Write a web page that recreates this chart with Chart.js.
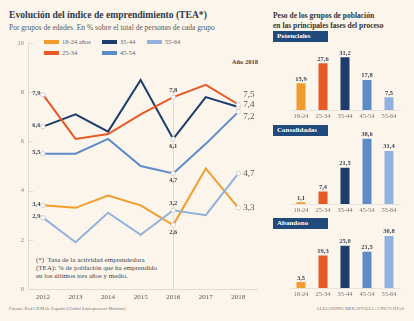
<!DOCTYPE html>
<html>
<head>
<meta charset="utf-8">
<script src="https://cdn.jsdelivr.net/npm/chart.js@4"></script>
<style>
  html, body { margin: 0; padding: 0; }
  body { width: 414px; height: 321px; background: #fcf5ec; position: relative; overflow: hidden;
         font-family: "Liberation Serif", "DejaVu Serif", serif; color: #333; }
  .t { position: absolute; white-space: nowrap; line-height: 1; }
  canvas { position: absolute; }
  .sw { position: absolute; width: 15px; height: 4px; }
  .box { position: absolute; left: 273px; width: 55px; height: 11px; background: #1f4a7b; color: #fff;
         font-weight: bold; font-size: 7px; line-height: 11px; padding-left: 4px; box-sizing: border-box; }
</style>
</head>
<body>
<div class="t" style="left:9px;top:10px;font-size:9.6px;font-weight:bold;color:#2c3b4b;">Evolución del índice de emprendimiento (TEA*)</div>
<div class="t" style="left:9px;top:23.5px;font-size:7.5px;color:#5a5a5a;">Por grupos de edades. En % sobre el total de personas de cada grupo</div>

<div class="sw" style="left:44px;top:40px;background:#f29c2e;"></div>
<div class="t" style="left:62px;top:38.5px;font-size:6.5px;color:#666;">18-24 años</div>
<div class="sw" style="left:102px;top:40px;background:#1d3d6c;"></div>
<div class="t" style="left:120px;top:38.5px;font-size:6.5px;color:#666;">35-44</div>
<div class="sw" style="left:147px;top:40px;background:#92b1dc;"></div>
<div class="t" style="left:165px;top:38.5px;font-size:6.5px;color:#666;">55-64</div>
<div class="sw" style="left:44px;top:51px;background:#e65a26;"></div>
<div class="t" style="left:62px;top:49.5px;font-size:6.5px;color:#666;">25-34</div>
<div class="sw" style="left:102px;top:51px;background:#5b8cc8;"></div>
<div class="t" style="left:120px;top:49.5px;font-size:6.5px;color:#666;">45-54</div>

<div class="t" style="right:156px;top:59px;font-size:6.5px;font-weight:bold;color:#444;">Año 2018</div>

<div class="t" style="left:36px;top:255.5px;font-size:7px;color:#444;line-height:8px;">(*)&nbsp; Tasa de la actividad emprendedora<br>(TEA): % de población que ha emprendido<br>en los últimos tres años y medio.</div>

<div class="t" style="left:9px;top:306.5px;font-size:4.8px;color:#777;">Fuente: Red GEM de España (Global Entrepreneur Monitor)</div>
<div class="t" style="right:10px;top:306.5px;font-size:4.5px;color:#777;letter-spacing:0.1px;">ALEJANDRO MERAVIGLIA / CINCO DÍAS</div>

<div class="t" style="left:273px;top:11px;font-size:7.5px;font-weight:bold;color:#333;line-height:10px;">Peso de los grupos de población<br>en las principales fases del proceso</div>

<div class="box" style="top:31px;">Potenciales</div>
<div class="box" style="top:125px;">Consolidadas</div>
<div class="box" style="top:218px;">Abandono</div>

<canvas id="lines" width="262" height="305" style="left:0;top:0;"></canvas>
<canvas id="bar1" width="130" height="95" style="left:280px;top:30px;"></canvas>
<canvas id="bar2" width="130" height="95" style="left:280px;top:124px;"></canvas>
<canvas id="bar3" width="130" height="95" style="left:280px;top:208px;"></canvas>

<script>
// Tasa TEA por grupo de edad, 2012-2018
const years = [2012, 2013, 2014, 2015, 2016, 2017, 2018];
const g1824 = [3.4, 3.3, 3.8, 3.4, 2.6, 4.9, 3.3];
const g2534 = [7.9, 6.1, 6.3, 7.1, 7.8, 8.3, 7.5];
const g3544 = [6.6, 7.1, 6.4, 8.5, 6.1, 7.8, 7.4];
const g4554 = [5.5, 5.5, 6.1, 5.0, 4.7, 5.9, 7.2];
const g5564 = [2.9, 1.9, 3.1, 2.2, 3.2, 3.0, 4.7];
const yTicks = [0, 2, 4, 6, 8, 10];

// Peso de cada grupo en las fases del proceso emprendedor
const barCats = ['18-24', '25-34', '35-44', '45-54', '55-64'];
const potenciales = [15.9, 27.6, 31.2, 17.8, 7.5];
const consolidadas = [1.1, 7.4, 21.5, 38.6, 31.4];
const abandono = [3.5, 19.3, 25.0, 21.5, 30.8];

const SERIF = '"Liberation Serif", "DejaVu Serif", serif';
const colors = {
  '18-24': '#f29c2e', '25-34': '#e65a26', '35-44': '#1d3d6c', '45-54': '#5b8cc8', '55-64': '#92b1dc'
};
const fmt = v => v.toFixed(1).replace('.', ',');

// where each value label sits: index -> [side, vertical nudge]
const labelPlace = {
  '18-24': { 0: ['l', -1], 4: ['b', 0], 6: ['r', 0] },
  '25-34': { 0: ['l', -1.5], 4: ['a', 0], 6: ['r', -10] },
  '35-44': { 0: ['l', -1], 4: ['b', 0], 6: ['r', -2] },
  '45-54': { 0: ['l', -1], 4: ['b', 0], 6: ['r', 5] },
  '55-64': { 0: ['l', -1], 4: ['a', 0], 6: ['r', 0] }
};

const series = [
  ['55-64', g5564], ['45-54', g4554], ['18-24', g1824], ['25-34', g2534], ['35-44', g3544]
];

const markIdx = [0, 4, 6];

const lineDecor = {
  id: 'lineDecor',
  beforeDatasetsDraw(chart) {
    const { ctx, chartArea, scales: { x, y } } = chart;
    ctx.save();
    // marker line for 2016
    const xp = Math.round(x.getPixelForValue(2016)) + 0.5;
    ctx.strokeStyle = '#dcdcdc';
    ctx.lineWidth = 1;
    ctx.beginPath();
    ctx.moveTo(xp, y.getPixelForValue(7.8) - 4);
    ctx.lineTo(xp, chartArea.bottom);
    ctx.stroke();
    // short inner ticks on the value axis
    yTicks.forEach(v => {
      if (v === 0) return;
      const yp = Math.round(y.getPixelForValue(v)) + 0.5;
      ctx.beginPath();
      ctx.moveTo(chartArea.left, yp);
      ctx.lineTo(chartArea.left + 5, yp);
      ctx.stroke();
    });
    ctx.restore();
  },
  afterDatasetsDraw(chart) {
    const { ctx } = chart;
    ctx.save();
    chart.data.datasets.forEach((ds, di) => {
      const meta = chart.getDatasetMeta(di);
      const place = labelPlace[ds.label];
      Object.keys(place).forEach(k => {
        const i = +k;
        const [side, dy] = place[k];
        const pt = meta.data[i];
        const txt = fmt(ds.data[i].y);
        if (side === 'l') {
          ctx.font = 'bold 6.5px ' + SERIF;
          ctx.fillStyle = '#3b4856';
          ctx.textAlign = 'right';
          ctx.textBaseline = 'middle';
          ctx.fillText(txt, pt.x - 2.5, pt.y + dy);
        } else if (side === 'r') {
          ctx.font = '9px ' + SERIF;
          ctx.fillStyle = '#555';
          ctx.textAlign = 'left';
          ctx.textBaseline = 'middle';
          ctx.fillText(txt, pt.x + 5, pt.y + dy);
        } else {
          ctx.font = 'bold 6.5px ' + SERIF;
          ctx.fillStyle = '#3b4856';
          ctx.textAlign = 'center';
          ctx.textBaseline = 'middle';
          ctx.fillText(txt, pt.x, pt.y + (side === 'a' ? -7 : 7) + dy);
        }
      });
    });
    ctx.restore();
  }
};

new Chart(document.getElementById('lines'), {
  type: 'line',
  data: {
    datasets: series.map(([name, vals]) => ({
      label: name,
      data: years.map((yr, i) => ({ x: yr, y: vals[i] })),
      borderColor: colors[name],
      borderWidth: 2,
      tension: 0,
      pointRadius: c => markIdx.includes(c.dataIndex) ? 2.2 : 0,
      pointBackgroundColor: '#fff',
      pointBorderColor: '#c8c8c8',
      pointBorderWidth: 0.8
    }))
  },
  options: {
    responsive: false,
    animation: false,
    events: [],
    layout: { padding: { top: 43, right: 4, left: 0, bottom: 0 } },
    plugins: { legend: { display: false }, tooltip: { enabled: false } },
    scales: {
      x: {
        type: 'linear',
        min: 2011.54,
        max: 2018.58,
        afterBuildTicks: s => { s.ticks = years.map(v => ({ value: v })); },
        afterFit: s => { s.height = 16; },
        grid: { drawOnChartArea: false, drawTicks: false },
        border: { display: true, color: '#dcdcdc', width: 1 },
        ticks: { padding: 4, color: '#555', font: { family: SERIF, size: 7 }, callback: v => String(v), maxRotation: 0 }
      },
      y: {
        min: 0,
        max: 10,
        afterBuildTicks: s => { s.ticks = yTicks.map(v => ({ value: v })); },
        afterFit: s => { s.width = 28; },
        grid: { drawOnChartArea: false, drawTicks: false },
        border: { display: true, color: '#dcdcdc', width: 1 },
        ticks: { padding: 4, color: '#888', font: { family: SERIF, size: 6.5 } }
      }
    }
  },
  plugins: [lineDecor]
});

const barLabels = {
  id: 'barLabels',
  afterDatasetsDraw(chart) {
    const { ctx } = chart;
    const ds = chart.data.datasets[0];
    const meta = chart.getDatasetMeta(0);
    ctx.save();
    ctx.font = 'bold 6.5px ' + SERIF;
    ctx.fillStyle = '#3b4856';
    ctx.textAlign = 'center';
    ctx.textBaseline = 'alphabetic';
    meta.data.forEach((bar, i) => {
      ctx.fillText(fmt(ds.data[i]), bar.x, bar.y - 2.5);
    });
    ctx.restore();
  }
};

function drawBars(id, vals) {
  new Chart(document.getElementById(id), {
    type: 'bar',
    data: {
      labels: barCats,
      datasets: [{
        data: vals,
        backgroundColor: barCats.map(c => colors[c]),
        borderWidth: 0,
        barPercentage: 0.41,
        categoryPercentage: 1
      }]
    },
    options: {
      responsive: false,
      animation: false,
      events: [],
      layout: { padding: { top: 12.4, left: 10, right: 10, bottom: 0 } },
      plugins: { legend: { display: false }, tooltip: { enabled: false } },
      scales: {
        x: {
          afterFit: s => { s.height = 15; },
          grid: { display: false, drawTicks: false },
          border: { display: true, color: '#dedede', width: 0.8 },
          ticks: { padding: 2, color: '#777', font: { family: SERIF, size: 6.5 }, maxRotation: 0 }
        },
        y: { display: false, min: 0, max: 40 }
      }
    },
    plugins: [barLabels]
  });
}

drawBars('bar1', potenciales);
drawBars('bar2', consolidadas);
drawBars('bar3', abandono);
</script>
</body>
</html>
